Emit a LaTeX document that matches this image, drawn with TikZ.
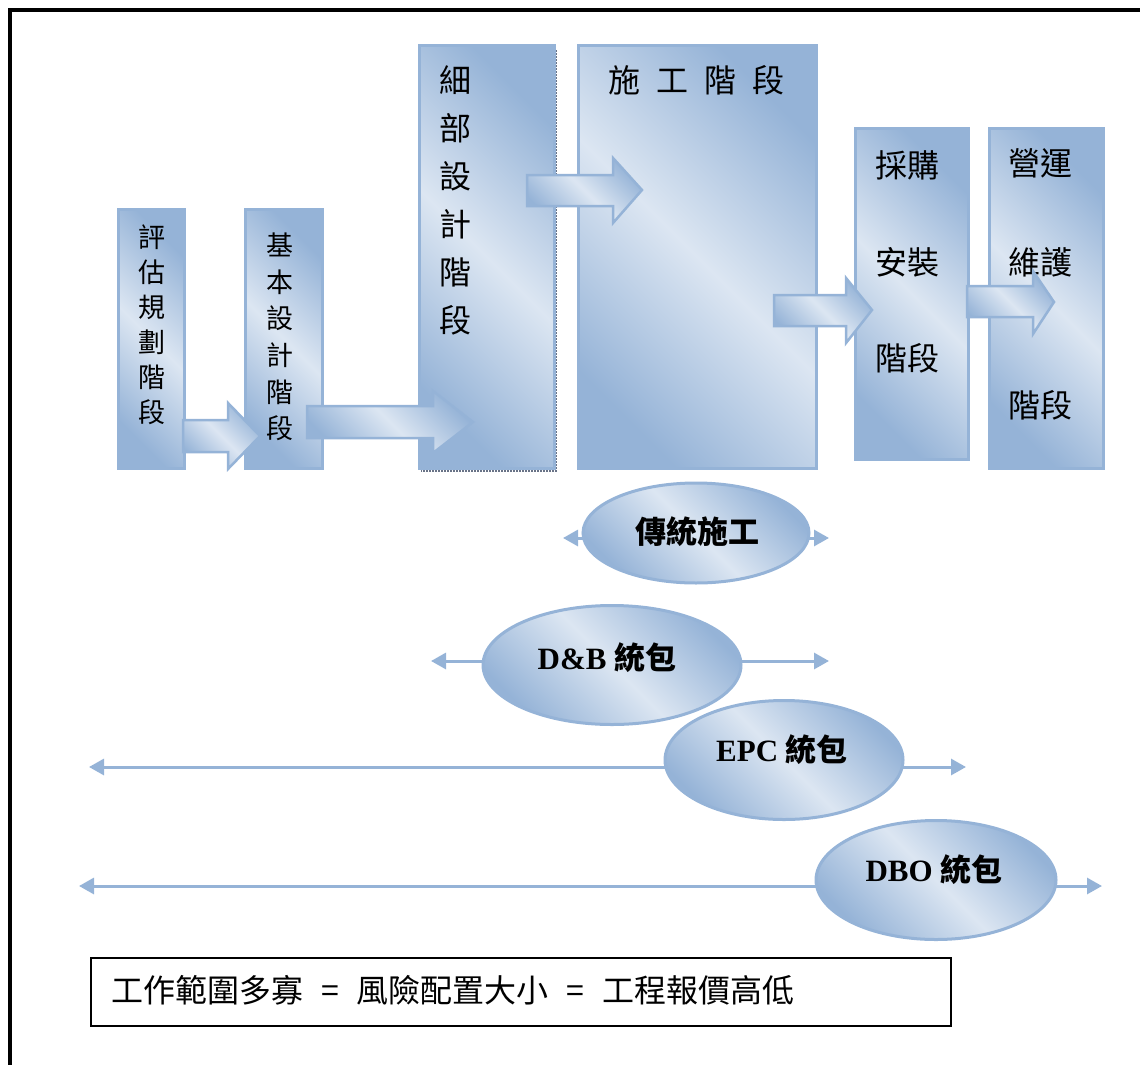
\documentclass[tikz,border=0pt]{standalone}
\usepackage{fontspec}
\setmainfont{Liberation Serif}
\newfontfamily\cjk{Noto Sans CJK TC}
\usetikzlibrary{arrows.meta,shapes.geometric}
\definecolor{bd}{RGB}{149,179,215}
\definecolor{bl}{RGB}{220,230,242}
\definecolor{bo}{RGB}{149,179,215}
\definecolor{shd}{RGB}{105,115,135}
\begin{document}
\begin{tikzpicture}[x=1pt,y=-1pt,
  shadefill/.style={top color=bd, bottom color=bd, middle color=bl, shading angle=-45},
  stage/.style={shadefill, draw=bo, line width=3pt, inner sep=0pt, anchor=north west},
  blockarrow/.style={shadefill, draw=bo, line width=2.5pt, line join=miter},
  pill/.style={shadefill, draw=bo, line width=3pt, ellipse, inner sep=0pt},
  span/.style={draw=bo, line width=3pt, {Triangle[length=15pt,width=16pt]}-{Triangle[length=15pt,width=16pt]}},
  vtext/.style={font=\cjk\fontsize{#1}{#1}\selectfont, align=center, inner sep=0pt},
  pilltext/.style={font=\bfseries\fontsize{31}{31}\selectfont, inner sep=0pt},
  frame/.style={line width=4.5pt, black}
]
\useasboundingbox (0,0) rectangle (1140,1065);

% outer frame
\draw[frame] (1140,10) -- (10,10) -- (10,1065);

% shadow of detailed-design box
\draw[shd, line width=2.5pt, dash pattern=on 2pt off 1pt] (556,50) -- (556,471) -- (421,471);

% stage boxes
\node[stage, minimum width=66pt,  minimum height=259pt] (b1) at (117,208) {};
\node[stage, minimum width=77pt,  minimum height=259pt] (b2) at (244,208) {};
\node[stage, minimum width=135pt, minimum height=423pt] (b3) at (418,44) {};
\node[stage, minimum width=238pt, minimum height=423pt] (b4) at (577,44) {};
\node[stage, minimum width=113pt, minimum height=331pt] (b5) at (854,127) {};
\node[stage, minimum width=114pt, minimum height=340pt] (b6) at (988,127) {};

% stage texts
\node[vtext=27, font=\cjk\fontsize{27}{35}\selectfont] (t1) at (152,325) {評\\估\\規\\劃\\階\\段};
\node[vtext=27, font=\cjk\fontsize{27}{36.6}\selectfont] (t2) at (280,337) {基\\本\\設\\計\\階\\段};
\node[vtext=32, font=\cjk\fontsize{32}{48}\selectfont] (t3) at (455,200) {細\\部\\設\\計\\階\\段};
\node[vtext=32] (t4) at (696,80) {施\hspace{16pt}工\hspace{16pt}階\hspace{16pt}段};
\node[vtext=32] (t5a) at (907,165) {採購};
\node[vtext=32] (t5b) at (907,262) {安裝};
\node[vtext=32] (t5c) at (907,358) {階段};
\node[vtext=32] (t6a) at (1040,163) {營運};
\node[vtext=32] (t6b) at (1040,262) {維護};
\node[vtext=32] (t6c) at (1040,405) {階段};

% block arrows between stages
\draw[blockarrow] (183,420) -- (228,420) -- (228,403) -- (260,436) -- (228,469) -- (228,452) -- (183,452) -- cycle;
\draw[blockarrow] (307,406) -- (433,406) -- (433,391) -- (473,422) -- (433,453) -- (433,438) -- (307,438) -- cycle;
\draw[blockarrow] (527,175) -- (613,175) -- (613,158) -- (642,190) -- (613,223) -- (613,206) -- (527,206) -- cycle;
\draw[blockarrow] (774,295) -- (846,295) -- (846,278) -- (872,310) -- (846,343) -- (846,326) -- (774,326) -- cycle;
\draw[blockarrow] (967,286) -- (1033,286) -- (1033,271) -- (1054,302) -- (1033,334) -- (1033,317) -- (967,317) -- cycle;

% contract range lines
\coordinate (l1a) at (563,538);  \coordinate (l1b) at (829,538);
\coordinate (l2a) at (431,661);  \coordinate (l2b) at (829,661);
\coordinate (l3a) at (89,767);   \coordinate (l3b) at (966,767);
\coordinate (l4a) at (79,886);   \coordinate (l4b) at (1102,886);
\draw[span] (l1a) -- (l1b);
\draw[span] (l2a) -- (l2b);
\draw[span] (l3a) -- (l3b);
\draw[span] (l4a) -- (l4b);

% contract ellipses
\node[pill, minimum width=226pt, minimum height=100pt] (e1) at (696,533) {};
\node[pill, minimum width=258pt, minimum height=119pt] (e2) at (612,665) {};
\node[pill, minimum width=238pt, minimum height=119pt] (e3) at (784,760) {};
\node[pill, minimum width=240pt, minimum height=119pt] (e4) at (936,880) {};
\node[pilltext] (e1t) at (697,532) {\cjk 傳統施工};
\node[pilltext] (e2t) at (607,658) {D\&B {\cjk 統包}};
\node[pilltext] (e3t) at (782,750) {EPC {\cjk 統包}};
\node[pilltext] (e4t) at (934,870) {DBO {\cjk 統包}};

% note box
\node[draw=black, line width=1.5pt, minimum width=860pt, minimum height=68pt, inner sep=0pt, anchor=north west] (note) at (90,957) {};
\node[font=\cjk\fontsize{32}{32}\selectfont, anchor=west, inner sep=0pt] (notet) at (111,990)
  {工作範圍多寡\hspace{18pt}=\hspace{18pt}風險配置大小\hspace{18pt}=\hspace{18pt}工程報價高低};
\end{tikzpicture}
\end{document}
